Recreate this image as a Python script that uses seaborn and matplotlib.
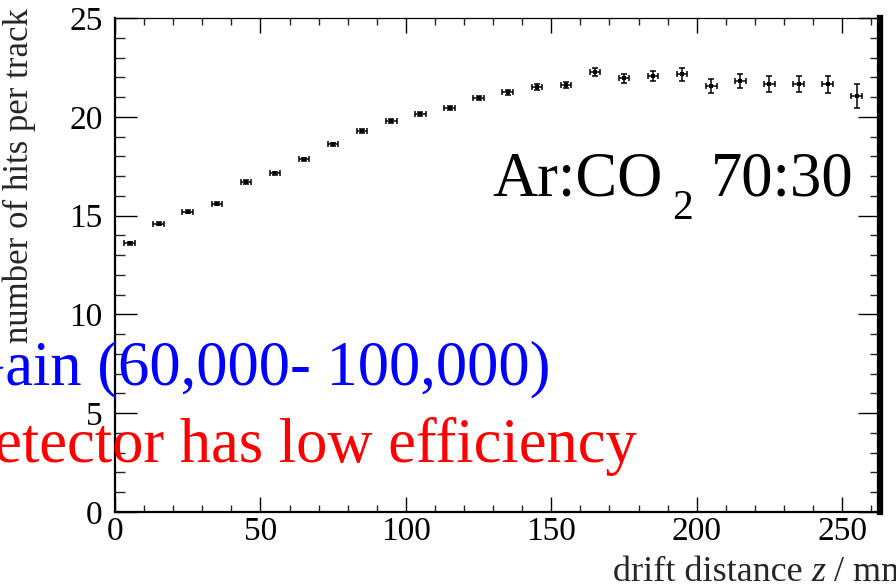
import matplotlib
matplotlib.use("Agg")
import matplotlib.pyplot as plt
import seaborn as sns
import pandas as pd
import numpy as np
from matplotlib.ticker import MultipleLocator

drift_z = [5, 15, 25, 35, 45, 55, 65, 75, 85, 95, 105, 115, 125, 135, 145, 155,
           165, 175, 185, 195, 205, 215, 225, 235, 245, 255]
hits = [13.6, 14.6, 15.2, 15.6, 16.7, 17.15, 17.85, 18.6, 19.3, 19.8, 20.15, 20.45,
        20.95, 21.25, 21.5, 21.6, 22.25, 21.95, 22.05, 22.15, 21.55, 21.8, 21.65,
        21.65, 21.65, 21.05]
hits_err = [0.08, 0.08, 0.08, 0.08, 0.08, 0.08, 0.09, 0.09, 0.1, 0.1, 0.1, 0.11,
            0.12, 0.13, 0.15, 0.16, 0.2, 0.22, 0.25, 0.33, 0.35, 0.36, 0.42, 0.42,
            0.44, 0.59]
z_err = 1.8

x_ticks = [0, 50, 100, 150, 200, 250]
y_ticks = [0, 5, 10, 15, 20, 25]
gas_main = "Ar:CO"
gas_sub = "2"
gas_ratio = "70:30"
gain_label = "Gain (60,000- 100,000)"
eff_label = "Detector has low efficiency"
x_title_a = "drift distance "
x_title_z = "z"
x_title_b = " / mm"
y_title = "number of hits per track"

sns.set_style("white")
plt.rcParams["font.family"] = ["Liberation Serif", "DejaVu Serif"]

df = pd.DataFrame({"z": drift_z, "hits": hits})

W, H = 896, 587
fig = plt.figure(figsize=(W / 100, H / 100), dpi=100)
ax = fig.add_axes([115 / W, 75 / H, (880 - 115) / W, (512 - 18) / H])

ax.errorbar(df["z"], df["hits"], yerr=hits_err, xerr=z_err, fmt="none",
            ecolor="black", elinewidth=1.1, capsize=2.5, capthick=1.1, zorder=3)
sns.scatterplot(data=df, x="z", y="hits", ax=ax, color="black", marker="s",
                s=8, linewidth=0, zorder=4)

ax.set_xlim(0, 263)
ax.set_ylim(0, 25)
ax.set_xticks(x_ticks)
ax.set_yticks(y_ticks)
ax.xaxis.set_minor_locator(MultipleLocator(10))
ax.yaxis.set_minor_locator(MultipleLocator(1))
ax.tick_params(axis="x", which="major", direction="in", length=11, width=1,
               top=True, bottom=True, labelsize=24, pad=3, colors="black")
ax.tick_params(axis="x", which="minor", direction="in", length=5, width=1,
               top=True, bottom=True)
ax.tick_params(axis="y", which="major", direction="in", length=16, width=1,
               left=True, right=True, labelsize=24, pad=9, colors="black")
ax.tick_params(axis="y", which="minor", direction="in", length=7, width=1,
               left=True, right=True)
ax.set_xlabel("")
ax.set_ylabel("")

ax.spines["left"].set_linewidth(1.6)
ax.spines["bottom"].set_linewidth(1.6)
ax.spines["top"].set_linewidth(0.9)
ax.spines["right"].set_linewidth(4.5)
for s in ax.spines.values():
    s.set_color("black")

# gas mixture label (ROOT-style low subscript)
fig.text(663 / W, 1 - 196 / H, gas_main, ha="right", va="baseline",
         fontsize=45, color="black")
fig.text(672 / W, 1 - 219 / H, gas_sub, ha="left", va="baseline",
         fontsize=30, color="black")
fig.text(853 / W, 1 - 196 / H, gas_ratio, ha="right", va="baseline",
         fontsize=45, color="black")

fig.text(551 / W, 1 - 384 / H, gain_label, ha="right", va="baseline",
         fontsize=45, color="blue")
fig.text(637 / W, 1 - 462 / H, eff_label, ha="right", va="baseline",
         fontsize=45, color="red")

# x title: "drift distance z / mm" with italic z, right aligned at the edge
fig.canvas.draw()
renderer = fig.canvas.get_renderer()
base_y = 1 - 581 / H
t_b = fig.text(1.015, base_y, x_title_b, ha="right", va="baseline", fontsize=26)
bb = t_b.get_window_extent(renderer)
t_z = fig.text(bb.x0 / W, base_y, x_title_z, ha="right", va="baseline",
               fontsize=26, fontstyle="italic")
bb = t_z.get_window_extent(renderer)
fig.text(bb.x0 / W, base_y, x_title_a, ha="right", va="baseline", fontsize=26)

fig.text(19 / W, 1 - 8 / H, y_title, ha="center", va="top", rotation=90,
         fontsize=25)

fig.savefig("out.png", dpi=100)
